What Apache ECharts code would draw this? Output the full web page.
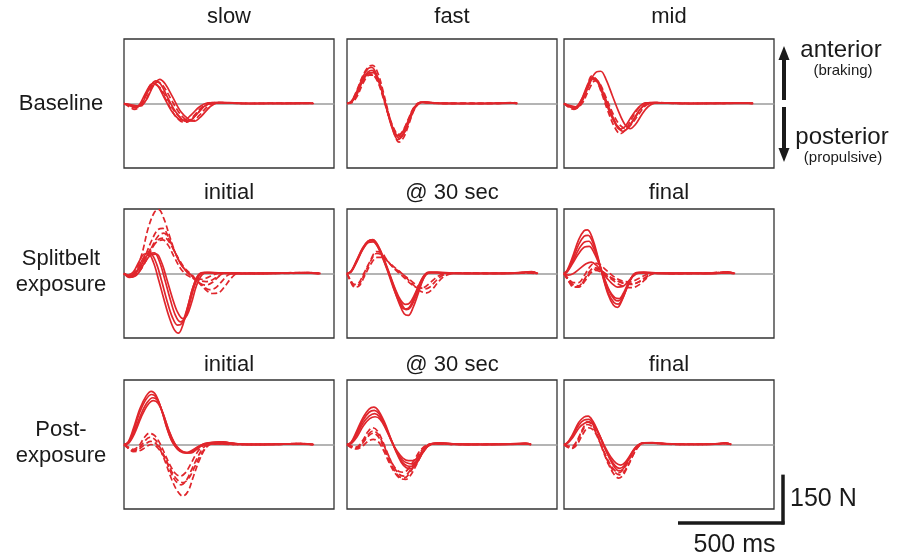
<!DOCTYPE html>
<html>
<head>
<meta charset="utf-8">
<script src="https://cdn.jsdelivr.net/npm/echarts@6/dist/echarts.min.js"></script>
<style>
  html, body { margin: 0; padding: 0; background: #fff; }
  #chart { width: 902px; height: 560px; }
</style>
</head>
<body>
<div id="chart"></div>
<script>
// panel titles and row labels
const colTitles = [
  ["slow", "fast", "mid"],
  ["initial", "@ 30 sec", "final"],
  ["initial", "@ 30 sec", "final"]
];
const rowLabels = [["Baseline"], ["Splitbelt", "exposure"], ["Post-", "exposure"]];

// force traces, [ms, N]
const baseSlowSolid = [
  [[0,0],[25,-6],[50,-12],[75,-2],[105,35],[135,62],[160,55],[190,20],[225,-22],[260,-48],[285,-52],[320,-35],[360,-10],[400,2],[450,3],[550,0],[700,1],[850,0],[900,1]],
  [[0,0],[30,-5],[60,-10],[90,5],[120,45],[150,70],[175,60],[205,22],[245,-25],[280,-52],[305,-56],[340,-38],[380,-10],[420,3],[470,3],[560,0],[700,0],[850,1],[900,0]],
  [[0,0],[35,-4],[70,-8],[105,10],[140,55],[170,75],[195,62],[230,22],[270,-25],[310,-50],[335,-55],[370,-38],[410,-10],[450,3],[500,3],[600,0],[750,0],[880,1],[905,0]]
];
const baseSlowDashed = [
  [[0,0],[25,-10],[50,-18],[80,-5],[110,38],[140,64],[165,52],[200,12],[235,-30],[270,-55],[295,-58],[330,-40],[370,-12],[410,2],[460,2],[560,0],[720,0],[860,2],[900,0]],
  [[0,0],[30,-8],[55,-14],[85,2],[115,42],[145,58],[170,50],[205,15],[245,-28],[285,-50],[310,-52],[345,-34],[385,-8],[430,2],[480,2],[580,0],[740,1],[870,0],[900,1]],
  [[0,0],[35,-5],[70,-12],[100,5],[130,48],[160,66],[185,56],[220,18],[260,-26],[295,-50],[325,-54],[360,-36],[400,-8],[440,3],[490,2],[600,0],[760,0],[880,1],[900,0]]
];
const baseFastSolid = [
  [[0,0],[20,5],[45,30],[75,75],[100,98],[120,103],[145,80],[170,30],[195,-30],[220,-80],[245,-100],[265,-88],[290,-55],[315,-18],[340,0],[365,4],[420,1],[550,0],[700,0],[790,2],[810,0]],
  [[0,0],[20,3],[45,25],[75,70],[105,95],[125,96],[150,70],[175,20],[200,-40],[225,-88],[250,-108],[270,-95],[295,-58],[320,-18],[345,2],[370,4],[430,1],[560,0],[700,1],[790,2],[810,0]],
  [[0,0],[20,6],[45,35],[75,82],[100,108],[118,112],[142,88],[168,36],[192,-25],[218,-82],[242,-112],[262,-100],[288,-62],[312,-22],[338,0],[362,4],[420,1],[550,0],[700,0],[790,1],[805,0]]
];
const baseFastDashed = [
  [[0,0],[20,4],[45,28],[75,72],[102,92],[122,90],[148,65],[172,18],[198,-38],[224,-82],[248,-96],[270,-80],[294,-45],[318,-12],[342,2],[366,3],[430,0],[560,1],[700,0],[790,3],[810,0]],
  [[0,0],[20,6],[45,38],[75,86],[102,114],[122,118],[148,92],[172,38],[198,-30],[224,-92],[248,-120],[270,-105],[294,-65],[318,-22],[342,0],[366,4],[430,1],[560,0],[700,0],[790,2],[812,0]],
  [[0,0],[22,2],[48,22],[78,65],[106,88],[126,88],[152,62],[176,15],[202,-42],[228,-84],[252,-102],[274,-88],[298,-50],[322,-14],[346,1],[370,3],[430,1],[560,0],[700,1],[790,2],[810,0]]
];
const baseMidSolid = [
  [[0,0],[25,-6],[55,-10],[90,20],[125,70],[155,98],[175,100],[200,75],[230,25],[260,-25],[290,-65],[315,-78],[340,-65],[370,-35],[400,-10],[440,2],[500,2],[600,0],[750,1],[860,2],[900,0]],
  [[0,0],[25,-8],[50,-14],[80,8],[110,55],[135,80],[155,72],[180,35],[210,-15],[240,-58],[265,-80],[290,-72],[320,-42],[355,-12],[390,2],[440,3],[550,0],[700,1],[850,0],[900,1]],
  [[0,0],[25,-10],[55,-16],[85,5],[115,50],[140,78],[162,70],[190,28],[222,-25],[252,-68],[280,-86],[305,-75],[335,-45],[370,-12],[410,3],[460,2],[560,0],[720,0],[860,2],[895,0]]
];
const baseMidDashed = [
  [[0,0],[22,-12],[48,-18],[78,0],[108,48],[132,85],[152,76],[178,34],[208,-22],[240,-72],[268,-94],[292,-82],[322,-48],[356,-14],[392,2],[440,2],[550,0],[700,0],[850,2],[900,0]],
  [[0,0],[25,-8],[52,-12],[82,6],[114,52],[140,74],[162,66],[190,24],[222,-28],[255,-70],[285,-84],[310,-72],[340,-42],[375,-10],[415,2],[460,2],[560,1],[720,0],[860,1],[900,0]],
  [[0,0],[25,-10],[55,-15],[88,2],[120,45],[148,70],[170,62],[198,22],[232,-30],[265,-66],[295,-78],[322,-64],[355,-34],[390,-6],[430,3],[480,2],[580,0],[740,1],[870,2],[902,0]]
];
const splitInitSolid = [
  [[0,0],[20,-5],[45,5],[70,35],[95,60],[115,62],[140,35],[165,-20],[190,-80],[215,-135],[240,-175],[260,-185],[280,-160],[305,-100],[330,-40],[355,-5],[380,3],[430,2],[550,0],[700,1],[850,2],[930,0]],
  [[0,0],[25,-8],[55,2],[85,40],[110,62],[130,60],[155,30],[180,-25],[205,-85],[230,-135],[255,-160],[275,-155],[300,-110],[325,-50],[350,-8],[375,3],[430,2],[560,0],[720,1],[860,2],[930,0]],
  [[0,0],[25,-10],[55,0],[90,35],[120,62],[145,64],[170,35],[195,-20],[220,-80],[245,-130],[268,-150],[290,-140],[312,-95],[335,-40],[360,-5],[385,3],[440,1],[560,0],[720,0],[860,3],[930,0]],
  [[0,0],[25,-12],[60,-5],[95,30],[130,58],[155,60],[180,32],[205,-20],[230,-75],[255,-120],[280,-140],[300,-130],[322,-90],[345,-38],[370,-5],[395,3],[450,2],[580,0],[740,1],[870,2],[935,0]]
];
const splitInitDashed = [
  [[0,0],[25,-8],[55,8],[85,60],[115,140],[145,190],[165,198],[190,170],[220,110],[250,55],[280,20],[310,0],[340,-12],[370,-18],[400,-12],[430,-3],[470,2],[550,0],[700,1],[860,3],[930,0]],
  [[0,0],[30,-10],[60,5],[95,45],[130,100],[160,135],[185,140],[210,115],[240,70],[270,30],[300,5],[330,-15],[360,-30],[390,-36],[420,-28],[450,-10],[480,2],[560,0],[720,1],[860,2],[930,0]],
  [[0,0],[30,-12],[65,0],[100,35],[135,85],[165,118],[190,125],[215,105],[245,62],[275,25],[305,2],[335,-15],[370,-35],[405,-50],[435,-45],[465,-25],[495,-5],[530,2],[620,0],[760,1],[880,3],[935,0]],
  [[0,0],[30,-10],[65,2],[105,40],[140,85],[170,108],[195,110],[222,90],[252,55],[285,20],[315,0],[345,-20],[380,-45],[420,-62],[450,-60],[480,-40],[510,-15],[540,0],[620,1],[760,0],[880,2],[935,0]],
  [[0,0],[28,-8],[60,4],[95,40],[130,80],[160,100],[185,104],[210,88],[240,50],[270,15],[300,-5],[330,-15],[360,-22],[390,-25],[420,-20],[450,-8],[480,1],[560,0],[720,1],[860,2],[930,0]]
];
const split30Solid = [
  [[0,0],[20,8],[45,40],[75,80],[100,100],[122,105],[148,85],[175,45],[200,0],[225,-50],[250,-95],[272,-125],[292,-130],[315,-105],[340,-60],[365,-15],[390,3],[430,4],[500,1],[650,0],[800,2],[880,5],[905,0]],
  [[0,0],[20,6],[45,36],[75,76],[100,98],[122,102],[148,82],[175,40],[200,-5],[225,-52],[250,-90],[272,-110],[292,-108],[315,-82],[340,-42],[365,-8],[390,4],[430,3],[500,1],[650,0],[800,1],[880,6],[905,0]],
  [[0,0],[20,7],[45,38],[75,78],[100,100],[124,104],[150,84],[178,42],[204,-3],[230,-48],[255,-82],[278,-96],[298,-92],[320,-68],[345,-32],[370,-4],[395,3],[440,2],[520,0],[660,1],[800,0],[880,4],[910,0]],
  [[0,0],[20,5],[45,34],[75,74],[102,96],[124,98],[150,78],[178,36],[205,-8],[232,-55],[258,-92],[282,-112],[302,-105],[325,-75],[350,-35],[375,-4],[400,3],[440,2],[520,0],[660,0],[800,1],[880,5],[908,0]]
];
const split30Dashed = [
  [[0,0],[15,-20],[35,-38],[55,-35],[80,-5],[110,35],[140,62],[160,60],[190,40],[220,20],[250,5],[280,-10],[310,-25],[340,-40],[370,-48],[395,-42],[420,-25],[450,-8],[490,0],[560,1],[700,0],[840,2],[900,0]],
  [[0,0],[15,-22],[35,-42],[55,-40],[82,-10],[112,28],[145,50],[168,50],[198,35],[228,18],[258,2],[290,-18],[320,-38],[350,-55],[380,-60],[405,-50],[430,-30],[460,-10],[500,0],[570,2],[720,0],[850,3],[905,0]],
  [[0,0],[15,-18],[35,-34],[55,-30],[80,0],[110,38],[140,68],[162,66],[190,42],[220,18],[250,0],[280,-18],[310,-35],[340,-45],[365,-44],[390,-32],[420,-15],[450,-3],[500,2],[580,0],[720,1],[860,2],[900,0]]
];
const splitFinalSolid = [
  [[0,0],[15,10],[40,50],[70,105],[95,132],[112,135],[135,110],[160,55],[185,-10],[210,-65],[235,-98],[255,-105],[275,-85],[300,-45],[325,-10],[345,2],[380,4],[450,1],[600,0],[720,1],[780,4],[810,0]],
  [[0,0],[15,8],[40,42],[70,90],[95,115],[115,118],[138,95],[162,45],[188,-15],[212,-62],[238,-90],[258,-95],[278,-78],[302,-40],[326,-8],[346,3],[380,3],[450,0],[600,1],[720,0],[780,3],[812,0]],
  [[0,0],[15,6],[40,35],[70,75],[98,98],[118,100],[140,80],[165,38],[190,-12],[215,-55],[240,-80],[260,-85],[280,-70],[305,-35],[328,-6],[348,2],[385,3],[450,1],[600,0],[720,1],[780,5],[815,0]],
  [[0,0],[15,5],[40,30],[70,62],[98,82],[120,84],[142,66],[168,28],[192,-15],[218,-55],[242,-75],[262,-78],[282,-62],[306,-30],[330,-5],[350,2],[390,2],[460,0],[600,1],[720,0],[780,3],[812,0]],
  [[0,0],[20,-5],[45,0],[75,15],[105,30],[130,35],[155,25],[180,5],[205,-15],[230,-32],[255,-42],[280,-40],[305,-25],[330,-8],[355,1],[390,2],[460,0],[600,1],[720,0],[780,2],[810,0]]
];
const splitFinalDashed = [
  [[0,0],[20,-18],[45,-35],[70,-38],[95,-20],[120,5],[145,18],[170,12],[200,-2],[230,-15],[260,-25],[290,-32],[320,-34],[350,-28],[380,-15],[410,-3],[440,2],[520,0],[650,1],[760,3],[800,0]],
  [[0,0],[20,-20],[45,-40],[72,-42],[98,-25],[125,0],[150,10],[175,5],[205,-8],[235,-22],[265,-35],[295,-42],[325,-44],[355,-36],[385,-20],[410,-5],[440,2],[520,1],[650,0],[760,4],[805,0]],
  [[0,0],[20,-15],[45,-28],[70,-28],[95,-8],[120,18],[145,32],[170,28],[198,12],[228,-5],[258,-18],[288,-25],[318,-26],[348,-18],[378,-8],[405,0],[440,2],[520,0],[650,1],[760,2],[800,0]],
  [[0,0],[20,-22],[45,-42],[72,-40],[100,-18],[128,4],[152,14],[178,8],[208,-6],[238,-18],[268,-26],[298,-30],[328,-32],[358,-26],[388,-14],[415,-2],[445,2],[520,0],[650,1],[760,3],[805,0]]
];
const postInitSolid = [
  [[0,0],[20,8],[45,50],[75,110],[105,150],[130,165],[150,155],[175,115],[200,60],[225,15],[250,-10],[275,-22],[300,-25],[325,-18],[350,-8],[380,2],[420,6],[460,8],[500,5],[560,1],[700,0],[820,2],[900,0]],
  [[0,0],[20,6],[45,42],[75,100],[105,140],[132,155],[155,145],[180,105],[205,50],[230,8],[255,-15],[280,-25],[305,-26],[330,-18],[355,-6],[385,3],[425,7],[470,8],[510,4],[570,1],[700,0],[830,3],[900,0]],
  [[0,0],[22,5],[48,38],[80,92],[110,130],[138,145],[160,136],[185,98],[212,45],[240,5],[265,-15],[290,-24],[315,-25],[340,-16],[365,-5],[395,3],[435,6],[480,7],[520,3],[580,0],[720,1],[840,2],[905,0]],
  [[0,0],[22,4],[50,34],[82,85],[112,122],[140,136],[162,128],[188,92],[215,42],[242,2],[268,-18],[295,-26],[320,-26],[345,-16],[370,-4],[400,3],[440,6],[485,6],[525,3],[585,0],[720,0],[840,3],[900,0]]
];
const postInitDashed = [
  [[0,0],[20,-8],[45,-15],[70,-5],[95,20],[120,35],[145,28],[170,5],[195,-30],[220,-65],[245,-90],[268,-98],[292,-88],[318,-60],[345,-28],[372,-6],[400,2],[450,2],[550,0],[700,1],[840,3],[900,0]],
  [[0,0],[20,-10],[45,-18],[72,-10],[98,10],[122,22],[148,15],[172,-10],[198,-45],[222,-85],[248,-115],[272,-125],[296,-112],[322,-78],[350,-40],[378,-10],[405,2],[455,2],[560,0],[710,1],[850,2],[900,0]],
  [[0,0],[20,-12],[45,-20],[72,-14],[100,0],[125,10],[150,4],[175,-20],[200,-60],[228,-110],[255,-145],[280,-160],[305,-145],[330,-100],[358,-50],[388,-12],[415,2],[465,2],[560,0],[710,0],[850,3],[905,0]],
  [[0,0],[20,-10],[45,-22],[72,-20],[100,-10],[128,0],[152,-5],[178,-25],[205,-55],[232,-90],[258,-112],[282,-118],[308,-105],[335,-72],[362,-35],[392,-8],[420,2],[470,1],[560,0],[710,1],[850,2],[900,0]]
];
const post30Solid = [
  [[0,0],[20,8],[45,40],[75,82],[105,110],[128,116],[150,105],[178,70],[205,25],[232,-20],[258,-55],[282,-72],[305,-75],[330,-60],[355,-32],[380,-8],[405,3],[440,5],[500,2],[620,0],[760,1],[850,4],[877,0]],
  [[0,0],[20,6],[45,34],[75,74],[105,100],[130,106],[152,96],[180,62],[208,18],[235,-22],[260,-52],[285,-66],[308,-68],[332,-54],[357,-28],[382,-6],[408,3],[445,4],[510,1],[630,0],[760,0],[850,3],[875,0]],
  [[0,0],[20,5],[45,28],[75,65],[105,88],[132,96],[155,86],[182,55],[210,14],[238,-24],[264,-48],[290,-58],[314,-60],[338,-46],[362,-22],[388,-4],[412,3],[450,4],[520,1],[640,0],[770,1],[850,3],[878,0]],
  [[0,0],[22,4],[48,24],[78,58],[108,80],[134,86],[158,78],[185,48],[212,10],[240,-22],[266,-42],[292,-50],[316,-50],[340,-38],[365,-18],[390,-2],[415,3],[455,3],[520,1],[640,0],[770,0],[850,2],[875,0]]
];
const post30Dashed = [
  [[0,0],[20,-5],[45,-8],[72,10],[100,40],[122,52],[145,42],[170,10],[195,-30],[222,-68],[248,-92],[270,-98],[292,-88],[318,-60],[345,-28],[372,-6],[398,2],[440,3],[520,1],[650,0],[780,2],[860,2],[875,0]],
  [[0,0],[20,-8],[45,-12],[72,2],[100,25],[125,35],[148,25],[172,-5],[198,-45],[225,-80],[250,-100],[272,-104],[295,-92],[322,-62],[350,-28],[378,-5],[405,2],[445,3],[520,0],[650,1],[780,1],[860,3],[875,0]],
  [[0,0],[20,-10],[45,-14],[72,-6],[100,10],[125,16],[150,8],[175,-20],[202,-58],[230,-90],[256,-106],[280,-108],[302,-96],[328,-66],[355,-32],[382,-8],[408,2],[450,2],[520,0],[650,0],[780,2],[860,2],[875,0]],
  [[0,0],[20,-6],[45,-8],[72,5],[100,30],[124,42],[146,34],[170,5],[195,-32],[222,-66],[248,-84],[270,-86],[294,-74],[320,-48],[347,-20],[375,-3],[400,2],[440,2],[520,0],[650,1],[780,1],[860,3],[875,0]]
];
const postFinalSolid = [
  [[0,0],[15,5],[40,30],[70,68],[95,85],[115,88],[138,72],[162,40],[188,0],[215,-40],[240,-70],[262,-82],[282,-75],[305,-50],[330,-20],[355,-2],[380,5],[420,6],[480,3],[600,1],[720,2],[770,5],[797,0]],
  [[0,0],[15,4],[40,26],[70,60],[96,76],[118,78],[140,64],[165,34],[190,-5],[218,-42],[244,-66],[266,-74],[286,-66],[310,-42],[335,-15],[360,1],[385,5],[425,5],[490,2],[600,0],[720,1],[770,4],[795,0]],
  [[0,0],[15,3],[42,22],[72,52],[98,66],[120,70],[142,58],[168,30],[194,-6],[222,-38],[248,-58],[270,-64],[290,-56],[314,-34],[338,-10],[362,2],[388,5],[430,4],[490,2],[600,0],[720,1],[770,3],[795,0]]
];
const postFinalDashed = [
  [[0,0],[15,-6],[38,-10],[62,8],[90,45],[112,62],[135,55],[160,25],[186,-20],[212,-62],[238,-92],[260,-104],[280,-96],[304,-68],[330,-32],[355,-6],[380,4],[420,5],[490,2],[600,1],[720,1],[770,4],[795,0]],
  [[0,0],[15,-8],[38,-12],[64,2],[92,35],[115,52],[138,46],[163,18],[190,-24],[216,-62],[242,-86],[264,-94],[284,-86],[308,-60],[334,-26],[358,-4],[384,4],[425,4],[490,2],[600,0],[720,1],[770,3],[795,0]],
  [[0,0],[15,-4],[38,-6],[62,12],[90,50],[112,70],[136,60],[160,28],[186,-14],[212,-52],[238,-78],[260,-88],[280,-80],[304,-55],[330,-22],[355,-2],[380,4],[420,4],[490,1],[600,0],[720,2],[770,4],[797,0]]
];

// scale bar values
const scaleTime = 500;   // ms
const scaleForce = 150;  // N

const panels = [
  [baseSlowSolid, baseSlowDashed], [baseFastSolid, baseFastDashed], [baseMidSolid, baseMidDashed],
  [splitInitSolid, splitInitDashed], [split30Solid, split30Dashed], [splitFinalSolid, splitFinalDashed],
  [postInitSolid, postInitDashed], [post30Solid, post30Dashed], [postFinalSolid, postFinalDashed]
];

const RED = "#e0262c";
const FONT = "'Liberation Sans', Arial, sans-serif";
const colLeft = [124, 347, 564];
const rowTop = [39, 209, 380];
const titleY = [17, 193, 365];
const panelW = 210, panelH = 129;

const grid = [], xAxis = [], yAxis = [], series = [];
panels.forEach(function (p, i) {
  const r = Math.floor(i / 3), c = i % 3;
  grid.push({
    left: colLeft[c], top: rowTop[r], width: panelW, height: panelH,
    show: true, borderColor: "#333", borderWidth: 1.3, backgroundColor: "transparent"
  });
  xAxis.push({
    gridIndex: i, type: "value", min: 0, max: 1000,
    axisLine: { show: true, onZero: true, lineStyle: { color: "#9c9c9c", width: 1.6 } },
    axisTick: { show: false }, axisLabel: { show: false }, splitLine: { show: false }
  });
  yAxis.push({
    gridIndex: i, type: "value", min: -200, max: 200,
    axisLine: { show: false }, axisTick: { show: false }, axisLabel: { show: false }, splitLine: { show: false }
  });
  [p[0], p[1]].forEach(function (traces, k) {
    traces.forEach(function (tr) {
      series.push({
        type: "line", xAxisIndex: i, yAxisIndex: i, data: tr,
        symbol: "none", smooth: 0.35, silent: true,
        lineStyle: { color: RED, width: 1.7, type: k === 0 ? "solid" : [6, 3] }
      });
    });
  });
});

function txt(s, x, y, size, align) {
  return {
    type: "text", x: x, y: y, silent: true,
    style: { text: s, fill: "#1a1a1a", font: size + "px " + FONT, align: align || "center", verticalAlign: "middle" }
  };
}

const graphic = [];
colTitles.forEach(function (row, r) {
  row.forEach(function (t, c) {
    graphic.push(txt(t, colLeft[c] + panelW / 2, titleY[r], 22));
  });
});
const rowMid = [104, 272, 443];
rowLabels.forEach(function (lines, r) {
  lines.forEach(function (t, j) {
    const y = rowMid[r] + (j - (lines.length - 1) / 2) * 26;
    graphic.push(txt(t, 61, y, 22));
  });
});

// direction arrows
graphic.push({ type: "line", shape: { x1: 784, y1: 100, x2: 784, y2: 58 }, style: { stroke: "#1a1a1a", lineWidth: 4 } });
graphic.push({ type: "polygon", shape: { points: [[784, 46], [778.5, 60], [789.5, 60]] }, style: { fill: "#1a1a1a" } });
graphic.push({ type: "line", shape: { x1: 784, y1: 107, x2: 784, y2: 150 }, style: { stroke: "#1a1a1a", lineWidth: 4 } });
graphic.push({ type: "polygon", shape: { points: [[784, 162], [778.5, 148], [789.5, 148]] }, style: { fill: "#1a1a1a" } });
graphic.push(txt("anterior", 841, 50, 24));
graphic.push(txt("(braking)", 843, 71, 15));
graphic.push(txt("posterior", 842, 137, 24));
graphic.push(txt("(propulsive)", 843, 158, 15));

const chart = echarts.init(document.getElementById("chart"));
chart.setOption({ animation: false, grid: grid, xAxis: xAxis, yAxis: yAxis, series: series });

// scale bars, sized from the last panel's scales
const o = chart.convertToPixel({ gridIndex: 8 }, [0, 0]);
const px = chart.convertToPixel({ gridIndex: 8 }, [scaleTime, scaleForce]);
const barT = px[0] - o[0], barF = o[1] - px[1];
const cx = 783, cy = 523;
graphic.push({ type: "line", shape: { x1: cx, y1: cy + 1.5, x2: cx, y2: cy - barF }, style: { stroke: "#1a1a1a", lineWidth: 3.5 } });
graphic.push({ type: "line", shape: { x1: cx + 1.5, y1: cy, x2: cx - barT, y2: cy }, style: { stroke: "#1a1a1a", lineWidth: 3.5 } });
graphic.push(txt(scaleForce + " N", 790, 499, 25, "left"));
graphic.push(txt(scaleTime + " ms", cx - barT / 2 + 4, 545, 25));

chart.setOption({ graphic: graphic });
window.addEventListener("resize", function () { chart.resize(); });
</script>
</body>
</html>
